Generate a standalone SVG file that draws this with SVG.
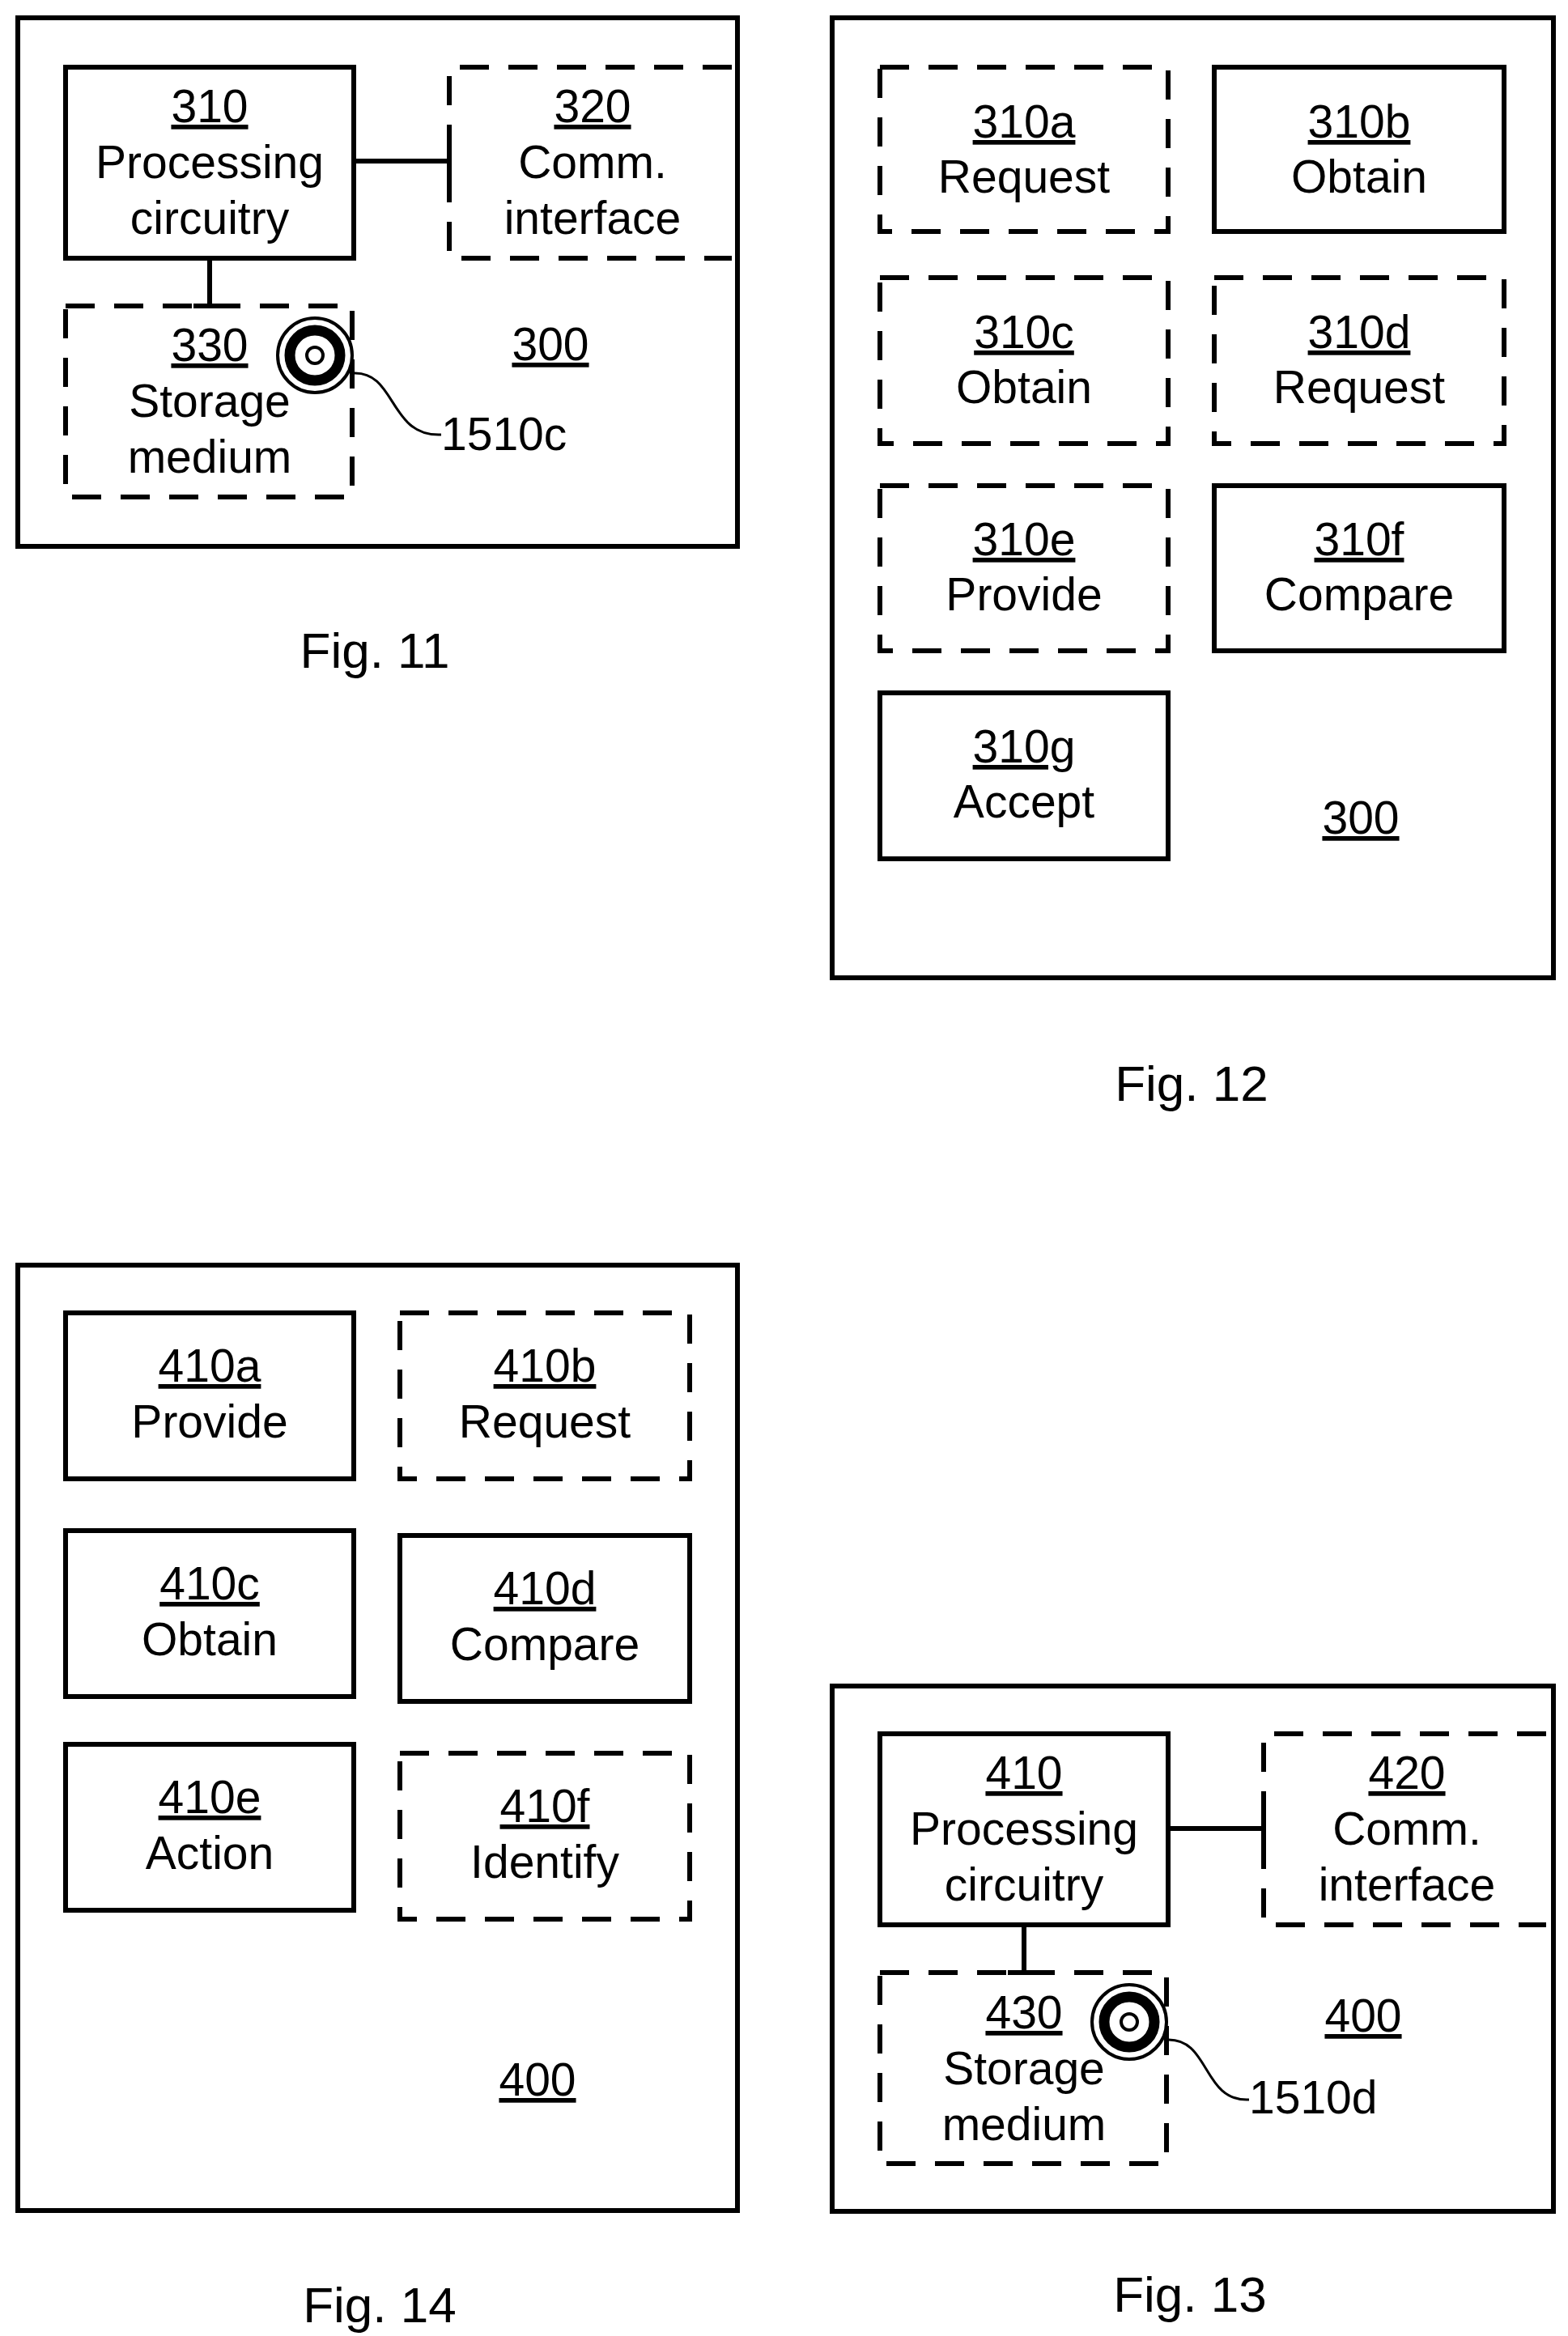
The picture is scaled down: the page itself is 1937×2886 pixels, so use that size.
<svg xmlns="http://www.w3.org/2000/svg" width="1937" height="2886" viewBox="0 0 1937 2886">
<style>
.b{fill:none;stroke:#000;stroke-width:6}
.d{fill:none;stroke:#000;stroke-width:6;stroke-dasharray:36 24}
text{font-family:"Liberation Sans",Arial,sans-serif;font-size:57px;text-anchor:middle;fill:#000}
.u{text-decoration:underline}
.f{font-size:62px}
.l{text-anchor:start}
</style>
<defs>
<g id="disc">
<circle r="46" fill="#fff" stroke="#000" stroke-width="4"/>
<circle r="31" fill="none" stroke="#000" stroke-width="13"/>
<circle r="10" fill="none" stroke="#000" stroke-width="4"/>
</g>
</defs>
<!-- Fig 11 -->
<g id="fig11">
<rect class="b" x="22" y="22" width="889" height="653"/>
<text class="u" x="680" y="445">300</text>
<text class="f" x="463" y="825">Fig. 11</text>
</g>
<g id="n310"><rect class="b" x="81" y="83" width="356" height="236"/><text class="u" x="259" y="151">310</text><text x="259" y="220">Processing</text><text x="259" y="289">circuitry</text></g>
<g id="n320"><path class="d" d="M904,83H555V319H904"/><text class="u" x="732" y="151">320</text><text x="732" y="220">Comm.</text><text x="732" y="289">interface</text></g>
<g id="n330"><rect class="d" x="81" y="378" width="354" height="236"/><text class="u" x="259" y="446">330</text><text x="259" y="515">Storage</text><text x="259" y="584">medium</text></g>
<g id="m1510c"><use href="#disc" x="389" y="439"/><path fill="none" stroke="#000" stroke-width="3" d="M436,461C490,458 480,540 545,537"/><text class="l" x="545" y="556">1510c</text></g>
<!-- Fig 12 -->
<g id="fig12"><rect class="b" x="1028" y="22" width="891" height="1186"/><text class="u" x="1681" y="1030">300</text><text class="f" x="1472" y="1360">Fig. 12</text></g>
<g id="n310a"><rect class="d" x="1087" y="83" width="356" height="203"/><text class="u" x="1265" y="170">310a</text><text x="1265" y="238">Request</text></g>
<g id="n310b"><rect class="b" x="1500" y="83" width="358" height="203"/><text class="u" x="1679" y="170">310b</text><text x="1679" y="238">Obtain</text></g>
<g id="n310c"><rect class="d" x="1087" y="343" width="356" height="205"/><text class="u" x="1265" y="430">310c</text><text x="1265" y="498">Obtain</text></g>
<g id="n310d"><rect class="d" x="1500" y="343" width="358" height="205"/><text class="u" x="1679" y="430">310d</text><text x="1679" y="498">Request</text></g>
<g id="n310e"><rect class="d" x="1087" y="600" width="356" height="204"/><text class="u" x="1265" y="686">310e</text><text x="1265" y="754">Provide</text></g>
<g id="n310f"><rect class="b" x="1500" y="600" width="358" height="204"/><text class="u" x="1679" y="686">310f</text><text x="1679" y="754">Compare</text></g>
<g id="n310g"><rect class="b" x="1087" y="856" width="356" height="205"/><text class="u" x="1265" y="942">310g</text><text x="1265" y="1010">Accept</text></g>
<!-- Fig 14 -->
<g id="fig14"><rect class="b" x="22" y="1563" width="889" height="1168"/><text class="u" x="664" y="2589">400</text><text class="f" x="469" y="2869">Fig. 14</text></g>
<g id="n410a"><rect class="b" x="81" y="1622" width="356" height="205"/><text class="u" x="259" y="1707">410a</text><text x="259" y="1776">Provide</text></g>
<g id="n410b"><rect class="d" x="494" y="1622" width="358" height="205"/><text class="u" x="673" y="1707">410b</text><text x="673" y="1776">Request</text></g>
<g id="n410c"><rect class="b" x="81" y="1891" width="356" height="205"/><text class="u" x="259" y="1976">410c</text><text x="259" y="2045">Obtain</text></g>
<g id="n410d"><rect class="b" x="494" y="1897" width="358" height="205"/><text class="u" x="673" y="1982">410d</text><text x="673" y="2051">Compare</text></g>
<g id="n410e"><rect class="b" x="81" y="2155" width="356" height="205"/><text class="u" x="259" y="2240">410e</text><text x="259" y="2309">Action</text></g>
<g id="n410f"><rect class="d" x="494" y="2166" width="358" height="205"/><text class="u" x="673" y="2251">410f</text><text x="673" y="2320">Identify</text></g>
<!-- Fig 13 -->
<g id="fig13"><rect class="b" x="1028" y="2083" width="891" height="649"/><text class="u" x="1684" y="2510">400</text><text class="f" x="1470" y="2856">Fig. 13</text></g>
<g id="n410"><rect class="b" x="1087" y="2142" width="356" height="236"/><text class="u" x="1265" y="2210">410</text><text x="1265" y="2279">Processing</text><text x="1265" y="2348">circuitry</text></g>
<g id="n420"><path class="d" d="M1910,2142H1561V2378H1910"/><text class="u" x="1738" y="2210">420</text><text x="1738" y="2279">Comm.</text><text x="1738" y="2348">interface</text></g>
<g id="n430"><rect class="d" x="1087" y="2437" width="354" height="236"/><text class="u" x="1265" y="2506">430</text><text x="1265" y="2575">Storage</text><text x="1265" y="2644">medium</text></g>
<g id="m1510d"><use href="#disc" x="1395" y="2498"/><path fill="none" stroke="#000" stroke-width="3" d="M1441,2520C1495,2517 1485,2597 1543,2594"/><text class="l" x="1543" y="2611">1510d</text></g>
<g id="connectors">
<path class="b" d="M437,199H555M555,179V219M259,319V378M239,378H279"/>
<path class="b" d="M1443,2259H1561M1561,2239V2279M1265,2378V2437M1245,2437H1285"/>
</g>
</svg>
